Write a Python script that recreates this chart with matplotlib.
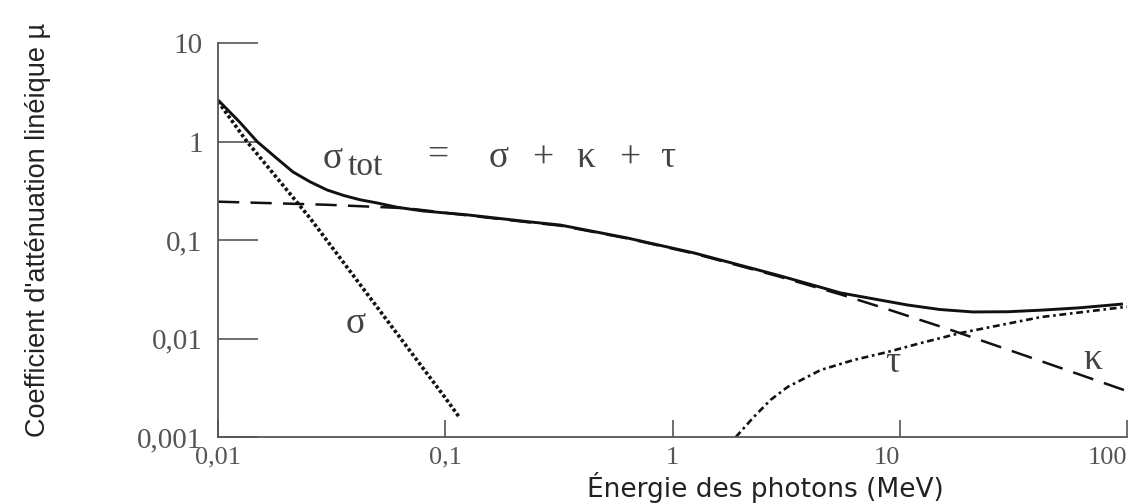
import matplotlib
matplotlib.use("Agg")
import matplotlib.pyplot as plt

# photon energy (MeV) and linear attenuation coefficients
energy_tot = [0.01, 0.0125, 0.01485, 0.0182, 0.0214, 0.0254, 0.0302, 0.0356, 0.0422,
              0.050, 0.0614, 0.080, 0.125, 0.24, 0.32, 0.63, 1.24, 2.9, 5.5, 10.8,
              15, 21, 30, 42, 62, 96]
mu_tot = [2.64, 1.56, 1.0, 0.67, 0.49, 0.39, 0.322, 0.284, 0.256,
          0.238, 0.215, 0.197, 0.18, 0.152, 0.142, 0.105, 0.074, 0.044, 0.029, 0.0219,
          0.0197, 0.0186, 0.0187, 0.0194, 0.0205, 0.0224]

energy_photo = [0.01, 0.0134, 0.0254, 0.05, 0.1, 0.115]
mu_photo = [2.55, 1.0, 0.167, 0.021, 0.0025, 0.0016]

energy_compton = [0.01, 0.03, 0.068, 0.125, 0.24, 0.32, 0.63, 1.24, 2.9, 5.5,
                  8.5, 16.8, 35, 97]
mu_compton = [0.245, 0.228, 0.21, 0.178, 0.15, 0.14, 0.104, 0.073, 0.043, 0.028,
              0.0204, 0.0122, 0.0068, 0.003]

energy_pair = [1.9, 2.28, 2.7, 3.21, 4.49, 6.27, 8.85, 12.4, 18.6, 41.8, 100]
mu_pair = [0.001, 0.0016, 0.00238, 0.00322, 0.00479, 0.00605, 0.0073, 0.009,
           0.0114, 0.0165, 0.021]

xticks = [0.01, 0.1, 1, 10, 100]
xtick_labels = ["0,01", "0,1", "1", "10", "100"]
yticks = [0.001, 0.01, 0.1, 1, 10]
ytick_labels = ["0,001", "0,01", "0,1", "1", "10"]

fig = plt.figure(figsize=(11.46, 5.03), dpi=100)
ax = fig.add_axes([218 / 1146, 66 / 503, 909 / 1146, 394 / 503])

line_kw = dict(color="#111111", solid_capstyle="butt", dash_capstyle="butt")
ax.plot(energy_photo, mu_photo, lw=2.6, ls=(0, (0.9, 0.7)), **line_kw)
ax.plot(energy_compton, mu_compton, lw=1.8, ls=(0, (8.5, 4.5)), **line_kw)
ax.plot(energy_pair, mu_pair, lw=1.9, ls=(0, (2.6, 1.4, 1, 1.4)), **line_kw)
ax.plot(energy_tot, mu_tot, lw=2.1, **line_kw)

ax.set_xscale("log")
ax.set_yscale("log")
ax.set_xlim(0.01, 100)
ax.set_ylim(0.001, 10)

ax.set_xticks(xticks)
ax.set_xticklabels(xtick_labels)
ax.set_yticks(yticks)
ax.set_yticklabels(ytick_labels)
ax.minorticks_off()

for side in ["top", "right"]:
    ax.spines[side].set_visible(False)
for side in ["left", "bottom"]:
    ax.spines[side].set_color("#555555")
    ax.spines[side].set_linewidth(1.3)

ax.tick_params(axis="both", width=1.2, color="#555555", labelsize=21,
               labelcolor="#555555", labelfontfamily="Liberation Serif")
ax.tick_params(axis="y", direction="in", length=29, pad=11)
ax.tick_params(axis="x", direction="in", length=12, pad=7, labelsize=19)

# the two right-hand energy labels sit left of their ticks
xlabs = ax.get_xticklabels()
xlabs[3].set_ha("right")
xlabs[4].set_ha("right")

ax.set_xlabel("Énergie des photons (MeV)", family="DejaVu Sans", fontsize=19,
              color="#222222", va="center")
ax.xaxis.set_label_coords((765 - 218) / 909, -(487.5 - 437) / 394)
ax.set_ylabel("Coefficient d'atténuation linéique µ", family="Liberation Sans",
              fontsize=19.5, color="#222222", va="center")
ax.yaxis.set_label_coords(-(218 - 38) / 909, (437 - 230) / 394)

# curve annotations
serif = dict(family="Liberation Serif", color="#444444", va="center")
ax.text(0.0321, 0.664, "σ", fontsize=27, ha="center", **serif)
ax.text(0.0373, 0.551, "tot", fontsize=24, ha="left", **serif)
for sym, x, y in [("=", 0.0929, 0.729), ("σ", 0.1726, 0.679), ("+", 0.269, 0.679),
                  ("κ", 0.416, 0.679), ("+", 0.650, 0.679), ("τ", 0.955, 0.679)]:
    ax.text(x, y, sym, fontsize=27, ha="center", **serif)

ax.text(0.0405, 0.01403, "σ", fontsize=27, ha="center", **serif)
ax.text(9.33, 0.00564, "τ", fontsize=27, ha="center", **serif)
ax.text(70.8, 0.00605, "κ", fontsize=27, ha="center", **serif)

fig.savefig("out.png", dpi=100)
